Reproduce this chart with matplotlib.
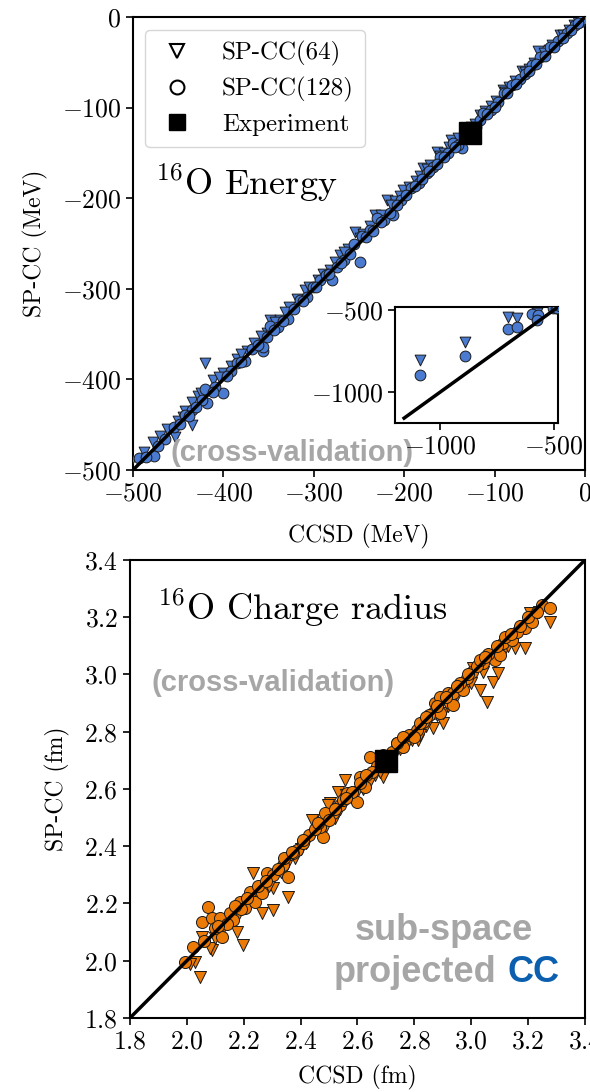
import matplotlib
matplotlib.use("Agg")
import matplotlib.pyplot as plt
from matplotlib.lines import Line2D
import numpy as np

plt.rcParams['font.family'] = 'serif'
plt.rcParams['font.serif'] = ['cmr10']
plt.rcParams['mathtext.fontset'] = 'cm'
plt.rcParams['axes.formatter.use_mathtext'] = True
plt.rcParams['axes.unicode_minus'] = True
plt.rcParams['font.size'] = 16

# --- 16O binding energy (MeV): CCSD vs SP-CC ---
e_ccsd_64 = [-1088, -893, -703, -663, -575, -478, -454, -420, -411, -400, -435, -435,
             -442, -385, -374, -352, -348, -337, -310, -282, -271, -254, -232, -219,
             -201, -179, -164, -148, -116, -91, -70, -52, -28, -7.5, -462, -445, -428,
             -366, -327, -318, -295, -262, -245, -210, -195, -187, -171, -156, -140,
             -133, -122, -104, -98, -84, -77, -62, -45, -36, -18, -12,
             -488, -470, -450, -425, -405, -392, -380, -358, -343, -332, -305, -290,
             -276, -266, -249, -238, -226, -215, -205, -183, -175, -160, -150, -126,
             -110, -88, -66, -56, -40, -24, -3]
e_spcc_64 = [-805, -695, -543, -549, -520, -469, -464, -382, -401, -393, -425, -450,
             -435, -377, -369, -349, -334, -334, -301, -279, -263, -237, -219, -202,
             -191, -167, -149, -136, -108, -81, -60, -38, -20, -5, -455, -441, -418,
             -360, -320, -311, -290, -256, -240, -203, -188, -181, -163, -150, -133,
             -127, -118, -98, -93, -77, -71, -57, -40, -31, -14, -9,
             -480, -463, -446, -415, -397, -385, -372, -352, -337, -326, -298, -284,
             -270, -259, -244, -231, -218, -208, -197, -176, -168, -153, -144, -121,
             -104, -83, -61, -51, -36, -20, -1]

e_ccsd_128 = [-1088, -893, -703, -663, -597, -570, -575, -504, -493, -477, -455, -420,
              -418, -400, -409, -435, -442, -424, -385, -376, -356, -352, -356, -348,
              -328, -315, -301, -280, -293, -267, -249, -256, -247, -238, -230, -212,
              -192, -175, -160, -146, -136.4, -116, -112.5, -90, -81, -59, -50, -39,
              -20, -11, -5, -465, -430, -392, -368, -340, -322, -308, -286, -274, -260,
              -222, -204, -198, -184, -168, -152, -140, -128, -120, -104, -96, -72, -66,
              -30, -2,
              -486, -472, -448, -438, -412, -396, -380, -362, -344, -334, -312, -297,
              -283, -270, -242, -234, -226, -216, -208, -188, -180, -172, -164, -156,
              -144, -132, -124, -108, -100, -86, -76, -62, -54, -44, -34, -24, -15, -8]
e_spcc_128 = [-897, -781, -616, -604, -525, -530, -561, -488, -487, -485, -452, -411,
              -426, -415, -408, -434, -439, -423, -382, -380, -369, -353, -364, -341,
              -333, -312, -298, -290, -290, -268, -270, -250, -242, -235, -222, -218.5,
              -189, -172.5, -154, -139, -145, -114, -106, -84, -75, -53, -44, -33,
              -18, -9, -6, -466, -430, -391, -366, -342, -322, -309, -285, -276, -262,
              -224, -202, -196, -183, -166, -150, -141, -127, -121, -103, -94, -68, -63,
              -27, -2,
              -486, -474, -449, -440, -414, -396, -381, -362, -346, -335, -313, -298,
              -284, -271, -243, -236, -226, -216, -207, -187, -179, -170, -162, -154,
              -143, -130, -122, -107, -99, -84, -74, -60, -52, -43, -33, -23, -14, -7]

e_exp = -127.6

# --- 16O charge radius (fm): CCSD vs SP-CC ---
r_ccsd_64 = [2.046, 2.029, 2.087, 2.052, 2.175, 2.198, 2.263, 2.304, 2.357, 2.234, 2.304,
             2.081, 2.445, 2.503, 2.439, 2.497, 2.532, 2.556, 2.690, 2.814, 2.866, 2.900,
             2.900, 3.007, 3.031, 3.054, 3.077, 3.095, 3.154, 3.189, 3.206, 3.277, 2.12,
             2.16, 2.21, 2.27, 2.33, 2.38, 2.42, 2.47, 2.52, 2.58, 2.62, 2.66, 2.73, 2.77,
             2.84, 2.95, 2.98, 3.11, 3.13, 3.24, 2.01,
             2.10, 2.18, 2.24, 2.29, 2.35, 2.40, 2.49, 2.54, 2.60, 2.64, 2.75, 2.79,
             2.82, 2.88, 2.92, 3.00, 3.04, 3.08, 3.15, 3.19, 3.22, 2.56, 2.68]
r_spcc_64 = [1.944, 1.997, 2.038, 2.084, 2.101, 2.055, 2.166, 2.177, 2.224, 2.305, 2.253,
             2.045, 2.492, 2.551, 2.492, 2.544, 2.590, 2.631, 2.643, 2.771, 2.812, 2.830,
             2.865, 3.022, 2.946, 2.905, 2.975, 3.004, 3.092, 3.092, 3.214, 3.184, 2.10,
             2.14, 2.19, 2.25, 2.31, 2.36, 2.41, 2.45, 2.50, 2.57, 2.60, 2.65, 2.72, 2.75,
             2.82, 2.93, 2.96, 3.08, 3.10, 3.22, 1.99,
             2.08, 2.16, 2.22, 2.26, 2.33, 2.39, 2.47, 2.53, 2.59, 2.62, 2.74, 2.77,
             2.79, 2.86, 2.89, 2.97, 3.01, 3.05, 3.12, 3.17, 3.20, 2.58, 2.66]

r_ccsd_128 = [1.993, 2.023, 2.122, 2.075, 2.052, 2.087, 2.116, 2.099, 2.152, 2.163, 2.187,
              2.204, 2.222, 2.240, 2.263, 2.281, 2.304, 2.357, 2.339, 2.386, 2.409, 2.374,
              2.480, 2.468, 2.515, 2.538, 2.597, 2.486, 2.562, 2.609, 2.626, 2.644, 2.738,
              2.761, 2.808, 2.831, 2.866, 2.872, 2.919, 2.890, 2.890, 2.925, 2.937, 2.937,
              2.972, 2.984, 3.001, 3.042, 3.083, 3.101, 3.113, 3.142, 3.189, 3.212, 3.248,
              3.277, 2.14, 2.19, 2.25, 2.32, 2.43, 2.45, 2.50, 2.55, 2.67, 2.70, 2.72, 2.78,
              2.80, 2.85, 2.96, 3.02, 3.06, 3.16,
              2.06, 2.11, 2.17, 2.21, 2.28, 2.34, 2.37, 2.41, 2.46, 2.52, 2.58, 2.61,
              2.65, 2.69, 2.74, 2.76, 2.82, 2.84, 2.88, 2.91, 2.95, 2.99, 3.03, 3.05,
              3.09, 3.12, 3.14, 3.17, 3.20, 3.23, 2.56, 2.63]
r_spcc_128 = [1.997, 2.049, 2.084, 2.189, 2.136, 2.148, 2.148, 2.113, 2.166, 2.142, 2.206,
              2.183, 2.241, 2.206, 2.236, 2.305, 2.300, 2.294, 2.334, 2.387, 2.410, 2.375,
              2.433, 2.468, 2.515, 2.544, 2.556, 2.515, 2.585, 2.643, 2.608, 2.713, 2.760,
              2.748, 2.806, 2.835, 2.865, 2.900, 2.934, 2.922, 2.865, 2.900, 2.894, 2.934,
              2.946, 2.987, 3.010, 3.039, 3.051, 3.068, 3.109, 3.121, 3.161, 3.184, 3.243,
              3.231, 2.13, 2.18, 2.26, 2.32, 2.44, 2.46, 2.49, 2.56, 2.68, 2.71, 2.73, 2.79,
              2.78, 2.86, 2.97, 3.03, 3.07, 3.15,
              2.07, 2.12, 2.19, 2.22, 2.28, 2.36, 2.38, 2.42, 2.48, 2.53, 2.59, 2.62,
              2.66, 2.72, 2.76, 2.78, 2.83, 2.85, 2.89, 2.92, 2.96, 3.00, 3.05, 3.06,
              3.10, 3.13, 3.14, 3.17, 3.20, 3.22, 2.57, 2.65]

r_exp = 2.699

blue = '#4a7bd0'
orange = '#ec7a06'
gray = '#a6a6a6'
cc_blue = '#0b5fae'

fig = plt.figure(figsize=(5.9, 10.92), dpi=100)
ax1 = fig.add_axes([0.2254, 0.5696, 0.766, 0.4148])
ax2 = fig.add_axes([0.2203, 0.0678, 0.7712, 0.4194])
axin = fig.add_axes([0.6695, 0.6126, 0.2763, 0.1062])

# energy panel (and its inset for the outliers)
for ax in (ax1, axin):
    ax.scatter(e_ccsd_64, e_spcc_64, marker='v', s=60, c=blue, edgecolors='#1a1a1a',
               linewidths=0.7, zorder=2)
    ax.scatter(e_ccsd_128, e_spcc_128, marker='o', s=60, c=blue, edgecolors='#1a1a1a',
               linewidths=0.7, zorder=3)
ax1.plot([-500, 0], [-500, 0], color='k', lw=2.5, zorder=4)
ax1.plot([e_exp], [e_exp], 's', color='k', ms=16, zorder=5)
ax1.set_xlim(-500, 0)
ax1.set_ylim(-500, 0)
ax1.set_xticks(np.arange(-500, 1, 100))
ax1.set_yticks(np.arange(-500, 1, 100))
ax1.set_xlabel('CCSD (MeV)', fontsize=17, labelpad=13)
ax1.set_ylabel('SP-CC (MeV)', fontsize=17, labelpad=10)
ax1.text(0.049, 0.634, r'$^{16}$O Energy', transform=ax1.transAxes, fontsize=26,
         va='center', ha='left')
ax1.text(0.082, 0.0375, '(cross-validation)', transform=ax1.transAxes, fontsize=21,
         family='Liberation Sans', weight='bold', color=gray, va='center', ha='left',
         zorder=10)

handles = [
    Line2D([], [], marker='v', ls='none', mfc='white', mec='k', mew=1.5, ms=10),
    Line2D([], [], marker='o', ls='none', mfc='white', mec='k', mew=1.5, ms=10),
    Line2D([], [], marker='s', ls='none', color='k', ms=11),
]
ax1.legend(handles, ['SP-CC(64)', 'SP-CC(128)', 'Experiment'], loc='upper left',
           fontsize=18, handletextpad=1.0, borderpad=0.45, labelspacing=0.45,
           handlelength=1.6)

axin.plot([-1160, -480], [-1160, -480], color='k', lw=2.5, zorder=4)
axin.set_xlim(-1200, -482)
axin.set_ylim(-1190, -482)
axin.set_xticks([-1000, -500])
axin.set_yticks([-1000, -500])

# charge radius panel
ax2.scatter(r_ccsd_64, r_spcc_64, marker='v', s=75, c=orange, edgecolors='#1a1a1a',
            linewidths=0.7, zorder=2)
ax2.scatter(r_ccsd_128, r_spcc_128, marker='o', s=75, c=orange, edgecolors='#1a1a1a',
            linewidths=0.7, zorder=3)
ax2.plot([1.8, 3.4], [1.8, 3.4], color='k', lw=2.5, zorder=4)
ax2.plot([r_exp], [r_exp], 's', color='k', ms=16, zorder=5)
ax2.set_xlim(1.8, 3.4)
ax2.set_ylim(1.8, 3.4)
ax2.set_xticks(np.arange(1.8, 3.41, 0.2))
ax2.set_yticks(np.arange(1.8, 3.41, 0.2))
ax2.set_xlabel('CCSD (fm)', fontsize=17, labelpad=8)
ax2.set_ylabel('SP-CC (fm)', fontsize=17, labelpad=10)
ax2.text(0.059, 0.895, r'$^{16}$O Charge radius', transform=ax2.transAxes, fontsize=26,
         va='center', ha='left')
ax2.text(0.048, 0.731, '(cross-validation)', transform=ax2.transAxes, fontsize=21,
         family='Liberation Sans', weight='bold', color=gray, va='center', ha='left')
ax2.text(0.690, 0.19, 'sub-space', transform=ax2.transAxes, fontsize=26,
         family='Liberation Sans', weight='bold', color=gray, va='center', ha='center')
ax2.text(0.805, 0.10, 'projected', transform=ax2.transAxes, fontsize=26,
         family='Liberation Sans', weight='bold', color=gray, va='center', ha='right')
ax2.text(0.829, 0.10, 'CC', transform=ax2.transAxes, fontsize=26,
         family='Liberation Sans', weight='bold', color=cc_blue, va='center', ha='left')

for ax in (ax1, ax2, axin):
    for sp in ax.spines.values():
        sp.set_linewidth(1.5)
    ax.tick_params(width=1.2, length=5, labelsize=18.5)

fig.savefig('out.png', dpi=100)
